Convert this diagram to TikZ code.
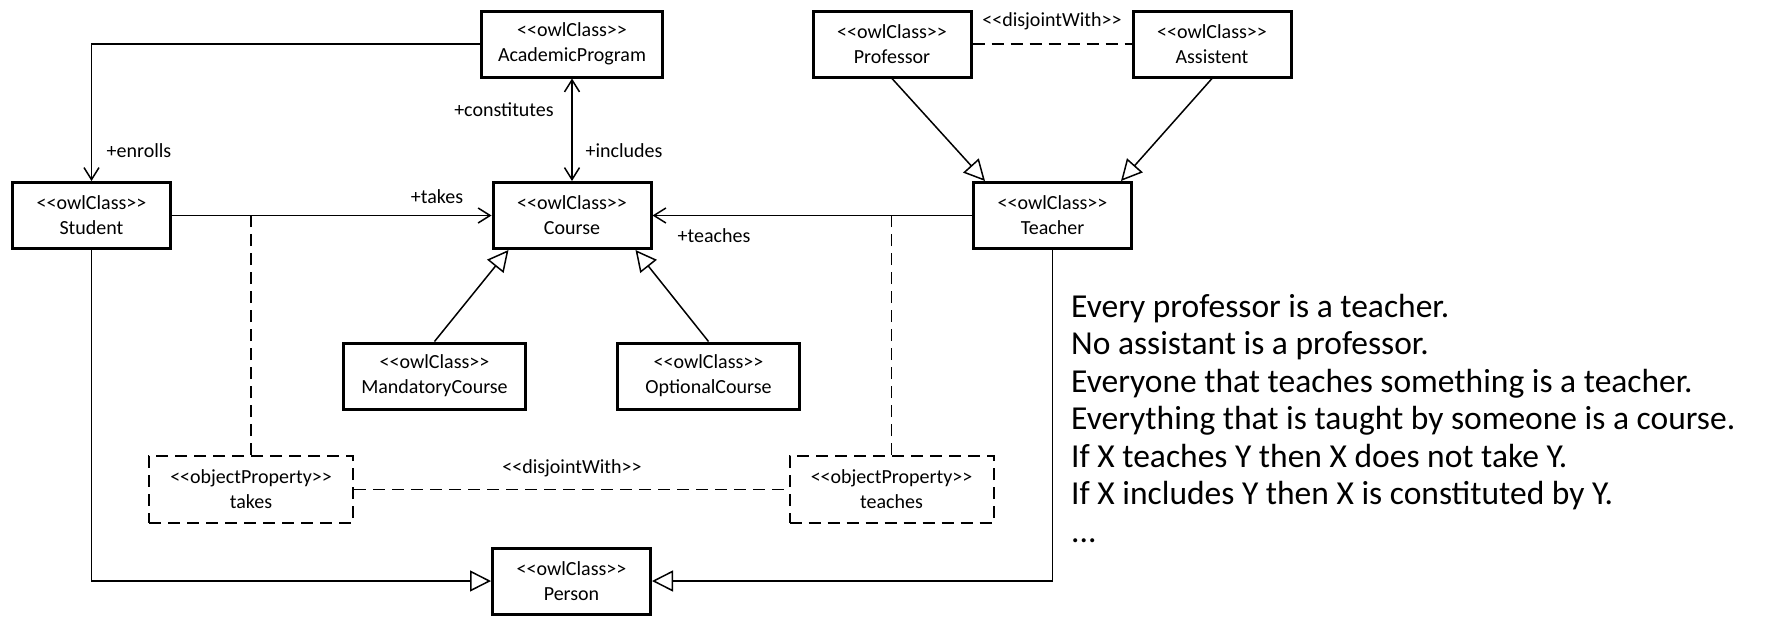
\documentclass[tikz,border=0pt]{standalone}
\usepackage{fontspec}
\setmainfont{Carlito}
\usetikzlibrary{arrows.meta}

\newcommand{\stereo}[1]{<\kern0pt<#1>\kern0pt>}

\begin{document}
\begin{tikzpicture}[x=1pt,y=-1pt,>={Straight Barb[length=12pt,width=15pt]}]
\tikzstyle{every node}=[font=\fontsize{20}{25}\selectfont]
\tikzstyle{owlclass}=[draw, line width=3pt, align=center, inner sep=0pt, minimum width=158pt, minimum height=66pt]
\tikzstyle{objprop}=[draw, line width=2pt, dash pattern=on 12pt off 7pt, align=center, inner sep=0pt, minimum width=204pt, minimum height=67pt]
\tikzstyle{link}=[line width=1.5pt]
\tikzstyle{isa}=[line width=1.5pt, -{Triangle[open,length=21pt,width=21pt,fill=white]}]
\tikzstyle{disjoint}=[line width=1.5pt, dash pattern=on 12pt off 7pt]

\useasboundingbox (0,0) rectangle (1785,616);

\node[owlclass, minimum width=181pt] (AcademicProgram) at (572,44) {\stereo{owlClass}\\AcademicProgram};
\node[owlclass] (Professor) at (892,44) {\stereo{owlClass}\\Professor};
\node[owlclass] (Assistent) at (1212,44) {\stereo{owlClass}\\Assistent};
\node[owlclass] (Student) at (91.5,215.5) {\stereo{owlClass}\\Student};
\node[owlclass] (Course) at (572,215.5) {\stereo{owlClass}\\Course};
\node[owlclass] (Teacher) at (1052.5,215.5) {\stereo{owlClass}\\Teacher};
\node[owlclass, minimum width=182pt] (MandatoryCourse) at (434.5,376) {\stereo{owlClass}\\MandatoryCourse};
\node[owlclass, minimum width=182pt] (OptionalCourse) at (708.5,376) {\stereo{owlClass}\\OptionalCourse};
\node[objprop] (takes) at (251,489.5) {\stereo{objectProperty}\\takes};
\node[objprop] (teaches) at (891.5,489.5) {\stereo{objectProperty}\\teaches};
\node[owlclass] (Person) at (571.5,581) {\stereo{owlClass}\\Person};

\draw[link,->] (AcademicProgram.west) -| (Student.north);
\node at (139,151) {+enrolls};
\draw[link,<->] (AcademicProgram) -- (Course);
\node at (504,110) {+constitutes};
\node at (624,151) {+includes};
\draw[link,->] (Student) -- (Course);
\node at (437,197) {+takes};
\draw[link,->] (Teacher) -- (Course);
\node at (714,236) {+teaches};

\draw[disjoint] (takes.north) -- (takes.north |- Student.east);
\draw[disjoint] (teaches.north) -- (teaches.north |- Teacher.west);
\draw[disjoint] (takes) -- (teaches);
\node at (572,468) {\stereo{disjointWith}};
\draw[disjoint] (Professor) -- (Assistent);
\node at (1052,21) {\stereo{disjointWith}};

\draw[isa] (Professor.south) -- ([xshift=13pt]Teacher.north west);
\draw[isa] (Assistent.south) -- ([xshift=-12pt]Teacher.north east);
\draw[isa] (MandatoryCourse.north) -- ([xshift=17pt]Course.south west);
\draw[isa] (OptionalCourse.north) -- ([xshift=-17pt]Course.south east);
\draw[isa] (Student.south) |- (Person.west);
\draw[isa] (Teacher.south) |- (Person.east);

\node[anchor=north west, align=left, inner sep=0pt, font=\fontsize{33.5}{37.5}\selectfont] (rules) at (1071,294) {Every professor is a teacher.\\
No assistant is a professor.\\
Everyone that teaches something is a teacher.\\
Everything that is taught by someone is a course.\\
If X teaches Y then X does not take Y.\\
If X includes Y then X is constituted by Y.\\
...};
\end{tikzpicture}
\end{document}
